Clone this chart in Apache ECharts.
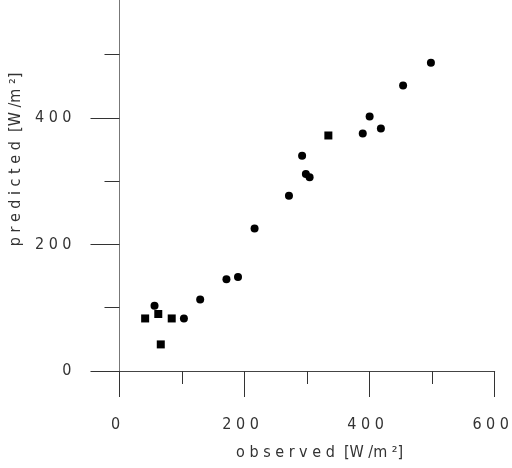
<!DOCTYPE html>
<html>
<head>
<meta charset="utf-8">
<script src="https://cdn.jsdelivr.net/npm/echarts@6/dist/echarts.min.js"></script>
<style>html,body{margin:0;padding:0;background:#fff;}#chart{width:512px;height:468px;}</style>
</head>
<body>
<div id="chart"></div>
<script>
// Data
var observed  = [41, 56, 62, 66, 83.5, 103, 129, 171, 189.5, 216, 271, 292, 298, 304, 334, 389, 400, 418, 453.5, 498];
var predicted = [83, 103, 90, 42, 83, 83, 113, 145, 148.5, 225, 277, 340, 311, 306, 372, 375, 402, 383, 451, 487];
var markerShapes = ['rect','circle','rect','rect','rect','circle','circle','circle','circle','circle','circle','circle','circle','circle','rect','circle','circle','circle','circle','circle'];
var xMajorTicks = [0, 200, 400, 600];
var xMinorTicks = [100, 300, 500];
var yMajorTicks = [0, 200, 400];
var yMinorTicks = [100, 300, 500];
var xTitle = 'observed [W /m ²]';
var yTitle = 'predicted [W /m ²]';

function spaced(s) { return String(s).split('').join(' '); }

var font = '"Liberation Sans Narrow", "DejaVu Sans Condensed", "Liberation Sans", sans-serif';
var textColor = '#333';
var points = observed.map(function (x, i) { return [x, predicted[i]]; });

var chart = echarts.init(document.getElementById('chart'));
chart.setOption({
  animation: false,
  backgroundColor: '#fff',
  grid: { left: 115, top: 0, right: 16, bottom: 97, containLabel: false },
  xAxis: [{
    type: 'value', min: 0, max: 600, position: 'bottom',
    splitLine: { show: false },
    axisLine: { show: true, lineStyle: { color: '#444', width: 1 } },
    axisTick: { show: true, customValues: xMajorTicks, length: 26, lineStyle: { color: '#333', width: 1 } },
    axisLabel: { show: true, customValues: xMajorTicks, margin: 46, color: textColor, fontFamily: font, fontSize: 16,
      padding: [0, 8, 0, 0], formatter: function (v) { return spaced(v); } },
    name: spaced('observed') + '  [W /m ²]', nameLocation: 'middle', nameGap: 74,
    nameTextStyle: { color: textColor, fontFamily: font, fontSize: 16, padding: [0, 0, 0, 25] }
  }, {
    type: 'value', min: 0, max: 600, position: 'bottom', offset: 0,
    splitLine: { show: false }, axisLine: { show: false },
    axisTick: { show: true, customValues: xMinorTicks, length: 13, lineStyle: { color: '#333', width: 1 } },
    axisLabel: { show: false }
  }],
  yAxis: [{
    type: 'value', min: 0, max: 586, position: 'left',
    splitLine: { show: false },
    axisLine: { show: true, lineStyle: { color: '#777', width: 1 } },
    axisTick: { show: true, customValues: yMajorTicks, length: 29, lineStyle: { color: '#333', width: 1 } },
    axisLabel: { show: true, customValues: yMajorTicks, margin: 48, color: textColor, fontFamily: font, fontSize: 16,
      formatter: function (v) { return spaced(v); } },
    name: spaced('predicted') + '  [W /m ²]', nameLocation: 'middle', nameGap: 95,
    nameTextStyle: { color: textColor, fontFamily: font, fontSize: 16, padding: [0, 0, 0, 52] }
  }, {
    type: 'value', min: 0, max: 586, position: 'left', offset: 0,
    splitLine: { show: false }, axisLine: { show: false },
    axisTick: { show: true, customValues: yMinorTicks, length: 15, lineStyle: { color: '#333', width: 1 } },
    axisLabel: { show: false }
  }],
  series: [{
    type: 'scatter',
    xAxisIndex: 0, yAxisIndex: 0,
    data: points,
    symbol: function (val, params) { return markerShapes[params.dataIndex]; },
    symbolSize: 8,
    itemStyle: { color: '#000', opacity: 1 }
  }]
});
</script>
</body>
</html>
